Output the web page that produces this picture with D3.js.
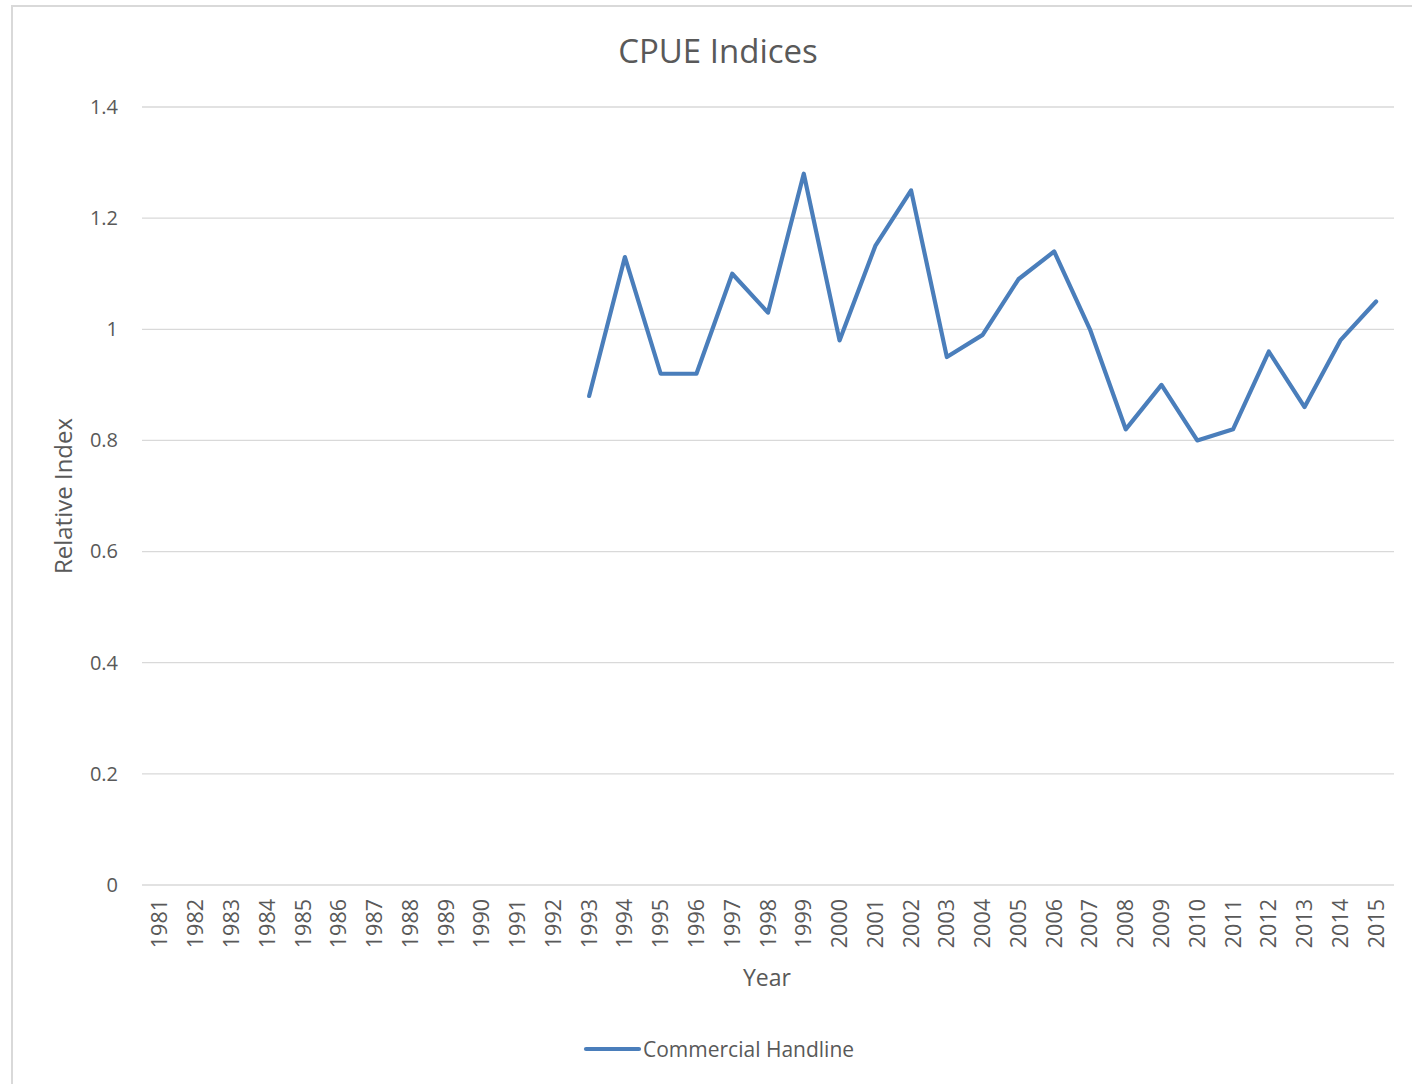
<!DOCTYPE html>
<html>
<head>
<meta charset="utf-8">
<script src="https://cdn.jsdelivr.net/npm/d3@7"></script>
<style>
  body { margin: 0; background: #fff; }
  svg text { font-family: "Open Sans", "Liberation Sans", sans-serif; fill: #595959; }
</style>
</head>
<body>
<div id="chart"></div>
<script>
// years on the category axis
var years = d3.range(1981, 2016).map(String);
// Commercial Handline series (1993-2015)
var seriesYears = ["1993","1994","1995","1996","1997","1998","1999","2000","2001","2002","2003",
                   "2004","2005","2006","2007","2008","2009","2010","2011","2012","2013","2014","2015"];
var handline = [0.88, 1.13, 0.92, 0.92, 1.10, 1.03, 1.28, 0.98, 1.15, 1.25, 0.95,
                0.99, 1.09, 1.14, 1.00, 0.82, 0.90, 0.80, 0.82, 0.96, 0.86, 0.98, 1.05];
var yTicks = [0, 0.2, 0.4, 0.6, 0.8, 1, 1.2, 1.4];

var W = 1412, H = 1084;
var margin = {top: 107, right: 18, bottom: 199, left: 142},
    width = W - margin.left - margin.right,
    height = H - margin.top - margin.bottom;

var svg = d3.select("#chart").append("svg")
    .attr("width", W)
    .attr("height", H);

// outer chart border
svg.append("rect")
    .attr("x", 12).attr("y", 6)
    .attr("width", W).attr("height", H)
    .attr("fill", "none")
    .attr("stroke", "#d9d9d9")
    .attr("stroke-width", 2);

var g = svg.append("g")
    .attr("transform", "translate(" + margin.left + "," + margin.top + ")");

var x = d3.scaleBand().domain(years).range([0, width]);
var y = d3.scaleLinear().domain([0, 1.4]).range([height, 0]);

// gridlines
g.append("g")
  .selectAll("line")
  .data(yTicks)
  .enter().append("line")
    .attr("x1", 0).attr("x2", width)
    .attr("y1", function(d) { return y(d); })
    .attr("y2", function(d) { return y(d); })
    .attr("stroke", "#d9d9d9")
    .attr("stroke-width", 1.3);

// y axis labels
var yAxis = g.append("g")
    .call(d3.axisLeft(y).tickValues(yTicks).tickSize(0).tickPadding(24)
      .tickFormat(function(d) { return String(d); }));
yAxis.select(".domain").remove();
yAxis.selectAll("text")
    .style("font-family", "'Open Sans', sans-serif")
    .style("font-size", "20px")
    .attr("fill", "#595959");

// x axis labels
var xAxis = g.append("g")
    .attr("transform", "translate(0," + height + ")")
    .call(d3.axisBottom(x).tickSize(0));
xAxis.select(".domain").remove();
xAxis.selectAll("text")
    .style("font-family", "'Open Sans', sans-serif")
    .style("font-size", "21.5px")
    .attr("fill", "#595959")
    .style("text-anchor", "end")
    .attr("dx", "-14px")
    .attr("dy", "0.35em")
    .attr("y", 0)
    .attr("x", 0)
    .attr("transform", "rotate(-90)");

// the line
var pts = seriesYears.map(function(d, i) { return {year: d, value: handline[i]}; });
var line = d3.line()
    .x(function(d) { return x(d.year) + x.bandwidth() / 2; })
    .y(function(d) { return y(d.value); });

g.append("path")
    .datum(pts)
    .attr("fill", "none")
    .attr("stroke", "#4a7ebb")
    .attr("stroke-width", 4.2)
    .attr("stroke-linejoin", "round")
    .attr("stroke-linecap", "round")
    .attr("d", line);

// title
svg.append("text")
    .attr("x", 718).attr("y", 63)
    .attr("text-anchor", "middle")
    .style("font-size", "33px")
    .text("CPUE Indices");

// axis titles
svg.append("text")
    .attr("x", 767).attr("y", 986)
    .attr("text-anchor", "middle")
    .style("font-size", "23px")
    .text("Year");

svg.append("text")
    .attr("transform", "translate(72,496) rotate(-90)")
    .attr("text-anchor", "middle")
    .style("font-size", "24px")
    .text("Relative Index");

// legend
var legend = svg.append("g").attr("transform", "translate(586,1049)");
legend.append("line")
    .attr("x1", 0).attr("x2", 53)
    .attr("stroke", "#4a7ebb")
    .attr("stroke-width", 4.2)
    .attr("stroke-linecap", "round");
legend.append("text")
    .attr("x", 57).attr("y", 7.5)
    .style("font-size", "21px")
    .text("Commercial Handline");
</script>
</body>
</html>
